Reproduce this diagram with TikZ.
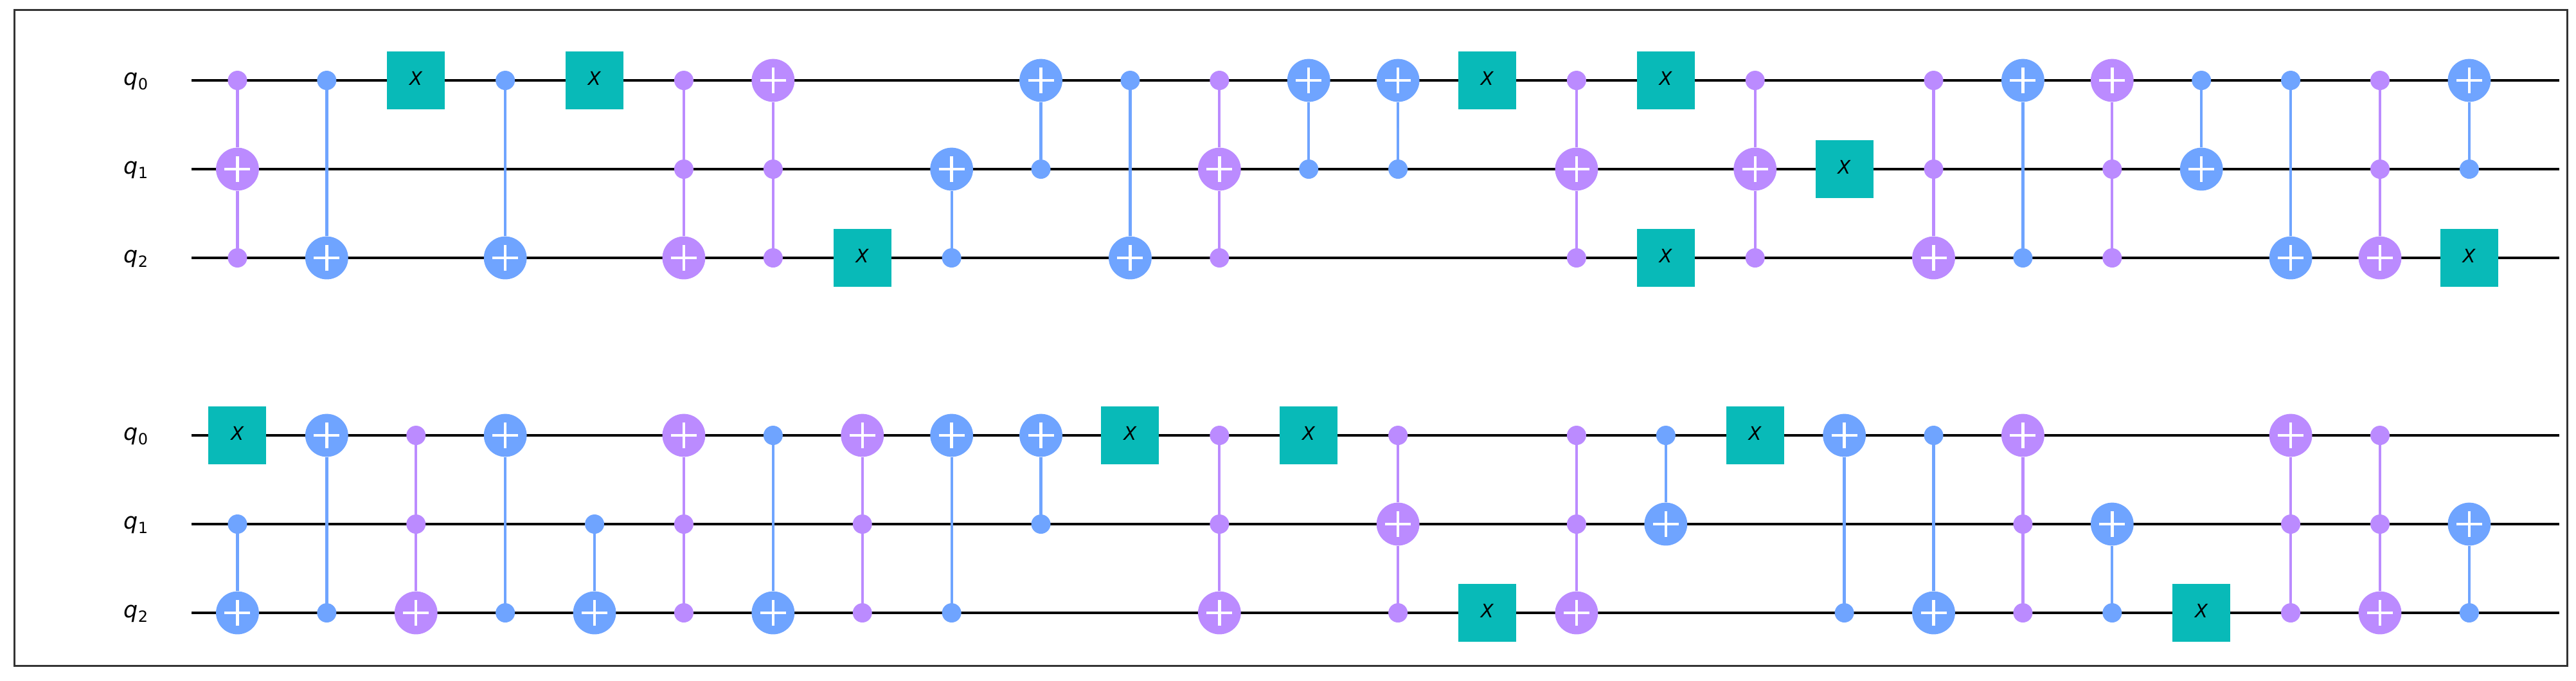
\documentclass[tikz,border=0pt]{standalone}
\usepackage{fontspec}
\setmainfont{DejaVu Sans}
\usepackage{tikz}

\definecolor{azul}{HTML}{6FA4FF}
\definecolor{lila}{HTML}{BB8BFF}
\definecolor{turq}{HTML}{08BAB8}

\begin{document}
\begin{tikzpicture}[x=69.45pt,y=-69pt,
   hilo/.style={black,line width=2.4pt},
   marco/.style={color=black!80,line width=1.5pt},
   etq/.style={anchor=base east,inner sep=0pt,yshift=-3.5pt,font=\fontsize{17.5}{20}\selectfont},
   puerta/.style={fill=turq,minimum size=45pt,inner sep=0pt,text depth=3pt,font=\fontsize{14.5}{17}\selectfont},
   punto/.style={circle,fill=#1,minimum size=15pt,inner sep=0pt},
   mas/.style={circle,fill=#1,minimum size=33.4pt,inner sep=0pt,path picture={
      \draw[white,line width=2.2pt] ([xshift=-10pt]path picture bounding box.center) -- ([xshift=10pt]path picture bounding box.center);
      \draw[white,line width=2.2pt] ([yshift=-10pt]path picture bounding box.center) -- ([yshift=10pt]path picture bounding box.center);}},
   cable/.style={color=#1,line width=2.15pt}]
   \useasboundingbox (-2.660,-0.906) rectangle (26.196,6.761);
   %marco
   \draw[marco] (-2.501,-.797) rectangle (26.095,6.601);
   %hilos
   \foreach \r/\i in {0/0,1/1,2/2,4/0,5/1,6/2} {
      \node[etq] (q\r) at (-1,\r) {\textit{q}\raisebox{-3.5pt}{\fontsize{12}{14}\selectfont\i}};
      \coordinate (ini\r) at (-.514,\r);
      \coordinate (fin\r) at (26.01,\r);
      \draw[hilo] (ini\r) -- (fin\r);
   }
   %puertas X
   \foreach \c/\r in {2/0,4/0,7/2,14/0,16/0,16/2,18/1,25/2,
                      0/4,10/4,12/4,14/6,17/4,22/6}
      \node[puerta] (x\c-\r) at (\c,\r) {\textit{X}};
   %CX azules: columna/control/objetivo
   \foreach \c/\k/\t in {1/0/2,3/0/2,8/2/1,9/1/0,10/0/2,12/1/0,13/1/0,20/2/0,22/0/1,23/0/2,25/1/0,
                         0/5/6,1/6/4,3/6/4,4/5/6,6/4/6,8/6/4,9/5/4,16/4/5,18/6/4,19/4/6,21/6/5,25/6/5} {
      \node[punto=azul] (k\c-\k) at (\c,\k) {};
      \node[mas=azul] (t\c-\t) at (\c,\t) {};
      \draw[cable=azul] (k\c-\k) -- (t\c-\t);
   }
   %Toffoli lilas: columna/control/control/objetivo
   \foreach \c/\k/\j/\t in {0/0/2/1,5/0/1/2,6/1/2/0,11/0/2/1,15/0/2/1,17/0/2/1,19/0/1/2,21/1/2/0,24/0/1/2,
                            2/4/5/6,5/5/6/4,7/5/6/4,11/4/5/6,13/4/6/5,15/4/5/6,20/5/6/4,23/5/6/4,24/4/5/6} {
      \node[punto=lila] (k\c-\k) at (\c,\k) {};
      \node[punto=lila] (j\c-\j) at (\c,\j) {};
      \node[mas=lila] (t\c-\t) at (\c,\t) {};
      \draw[cable=lila] (k\c-\k) -- (t\c-\t);
      \draw[cable=lila] (j\c-\j) -- (t\c-\t);
   }
\end{tikzpicture}
\end{document}
